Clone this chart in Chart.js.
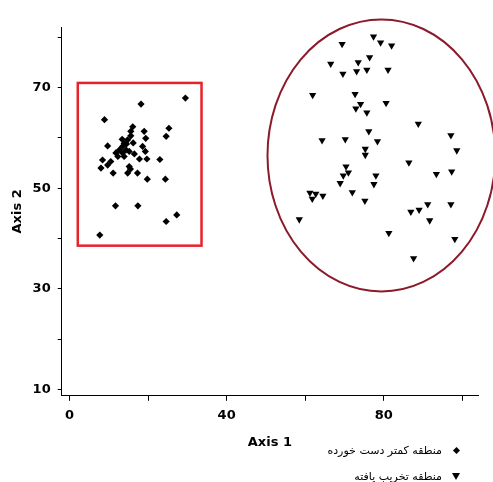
<!DOCTYPE html>
<html>
<head>
<meta charset="utf-8">
<script src="https://cdn.jsdelivr.net/npm/chart.js@4"></script>
<style>
  body { margin: 0; background: #fff; }
  #wrap { position: relative; width: 493px; height: 482px; }
  .legText { position: absolute; font: 11px "DejaVu Sans"; direction: rtl; white-space: nowrap; line-height: 14px; color: #000; }
  .dia { position: absolute; width: 5px; height: 5px; background: #000; transform: rotate(45deg); }
  .tri { position: absolute; width: 0; height: 0; border-left: 4px solid transparent; border-right: 4px solid transparent; border-top: 7px solid #000; }
</style>
</head>
<body>
<div id="wrap">
  <canvas id="scatterChart" width="493" height="482"></canvas>
  <div class="dia" style="left:454px; top:448px;"></div>
  <div class="legText" style="right:51px; top:444px;">منطقه کمتر دست خورده</div>
  <div class="tri" style="left:452px; top:473px;"></div>
  <div class="legText" style="right:51px; top:470px;">منطقه تخریب یافته</div>
</div>
<script>
// low disturbance zone (diamonds)
const lowX = [29.5, 18.2, 8.9, 16.1, 25.3, 19.0, 15.6, 15.6, 24.6, 19.4, 14.8, 13.4, 13.9, 16.2, 9.7, 13.5,
    18.6, 14.5, 12.7, 14.4, 11.8, 13.5, 15.2, 19.3, 13.9, 12.3, 16.5, 17.8, 19.7, 23.0, 10.5, 8.4,
    9.7, 8.0, 15.2, 15.5, 11.1, 14.8, 17.3, 19.8, 24.4, 11.7, 17.4, 27.3, 24.6, 7.7];
const lowY = [67.9, 66.7, 63.6, 62.2, 61.9, 61.3, 61.3, 60.4, 60.3, 59.9, 59.6, 59.7, 58.9, 59.0, 58.4, 58.3,
    58.3, 58.8, 57.6, 57.6, 57.0, 57.0, 57.3, 57.3, 56.3, 56.3, 56.8, 55.8, 55.8, 55.7, 55.3, 55.6,
    54.6, 54.0, 54.3, 53.8, 53.0, 53.0, 53.0, 51.8, 51.8, 46.5, 46.5, 44.7, 43.4, 40.7];

// degraded zone (triangles)
const degX = [77.4, 79.2, 82.0, 69.4, 76.4, 66.5, 73.5, 69.6, 73.1, 75.7, 81.1, 61.9, 72.7, 80.6, 74.1, 72.9,
    75.7, 88.8, 76.2, 97.1, 64.3, 70.2, 78.4, 98.6, 75.3, 75.3, 86.4, 70.4, 71.0, 69.7, 78.0, 93.4,
    97.3, 68.9, 77.5, 61.2, 62.7, 61.8, 64.5, 72.0, 75.2, 91.2, 97.1, 89.0, 86.9, 91.7, 58.5, 81.3,
    98.1, 87.6];
const degY = [80.1, 78.9, 78.3, 78.6, 76.0, 74.7, 75.0, 72.7, 73.2, 73.5, 73.5, 68.5, 68.7, 66.9, 66.7, 65.8,
    65.0, 62.8, 61.3, 60.5, 59.5, 59.7, 59.3, 57.5, 57.8, 56.6, 55.1, 54.3, 53.1, 52.5, 52.5, 52.8,
    53.3, 51.0, 50.8, 49.1, 48.9, 47.9, 48.5, 49.2, 47.5, 46.8, 46.8, 45.7, 45.3, 43.6, 43.8, 41.1,
    39.9, 36.1];

const xTickLabels = [0, 40, 80];
const yTickLabels = [10, 30, 50, 70];

// outlines around the two groups, in axis units
const boxX = [2.1, 33.6];
const boxY = [38.6, 70.9];
const ellCenter = [79.4, 56.5];
const ellRadius = [29.0, 27.0];

const toPoints = (xs, ys) => xs.map((x, i) => ({ x: x, y: ys[i] }));

const outlinePlugin = {
    id: 'outlines',
    afterDatasetsDraw(chart) {
        const ctx = chart.ctx;
        const xs = chart.scales.x, ys = chart.scales.y;
        ctx.save();
        // rectangle
        const x1 = xs.getPixelForValue(boxX[0]), x2 = xs.getPixelForValue(boxX[1]);
        const y1 = ys.getPixelForValue(boxY[1]), y2 = ys.getPixelForValue(boxY[0]);
        ctx.strokeStyle = '#e8222b';
        ctx.lineWidth = 2.5;
        ctx.strokeRect(x1, y1, x2 - x1, y2 - y1);
        // ellipse
        const cx = xs.getPixelForValue(ellCenter[0]);
        const cy = ys.getPixelForValue(ellCenter[1]);
        const rx = Math.abs(xs.getPixelForValue(ellCenter[0] + ellRadius[0]) - cx);
        const ry = Math.abs(ys.getPixelForValue(ellCenter[1] + ellRadius[1]) - cy);
        ctx.beginPath();
        ctx.ellipse(cx, cy, rx, ry, 0, 0, Math.PI * 2);
        ctx.strokeStyle = '#8b1a2b';
        ctx.lineWidth = 2;
        ctx.stroke();
        ctx.restore();
    }
};

const tickFont = { family: 'DejaVu Sans', size: 13, weight: 'bold' };

new Chart(document.getElementById('scatterChart').getContext('2d'), {
    type: 'scatter',
    data: {
        datasets: [{
            label: 'منطقه کمتر دست خورده',
            data: toPoints(lowX, lowY),
            pointStyle: 'rectRot',
            pointRadius: 3.6,
            backgroundColor: '#000',
            borderColor: '#000',
            borderWidth: 0
        }, {
            label: 'منطقه تخریب یافته',
            data: toPoints(degX, degY),
            pointStyle: 'triangle',
            rotation: 180,
            pointRadius: 4.2,
            backgroundColor: '#000',
            borderColor: '#000',
            borderWidth: 0
        }]
    },
    options: {
        responsive: false,
        animation: false,
        layout: { padding: { top: 27, right: 15, bottom: 32, left: 10 } },
        plugins: {
            legend: { display: false },
            tooltip: { enabled: false }
        },
        scales: {
            x: {
                type: 'linear',
                min: -2,
                max: 104,
                grid: { drawOnChartArea: false, drawTicks: true, tickLength: 5, color: '#000' },
                border: { display: true, color: '#000', width: 1 },
                ticks: {
                    stepSize: 20,
                    includeBounds: false,
                    padding: 7,
                    color: '#000',
                    font: tickFont,
                    callback: v => xTickLabels.includes(v) ? v : ''
                },
                title: { display: true, text: 'Axis 1', color: '#000', font: tickFont, padding: { top: 4, bottom: 0 } }
            },
            y: {
                min: 8.8,
                max: 82,
                grid: { drawOnChartArea: false, drawTicks: true, tickLength: 4, color: '#000' },
                border: { display: true, color: '#000', width: 1 },
                ticks: {
                    stepSize: 10,
                    includeBounds: false,
                    padding: 7,
                    color: '#000',
                    font: tickFont,
                    callback: v => yTickLabels.includes(v) ? v : ''
                },
                title: { display: true, text: 'Axis 2', color: '#000', font: tickFont, padding: { top: 0, bottom: 0 } }
            }
        }
    },
    plugins: [outlinePlugin]
});
</script>
</body>
</html>
